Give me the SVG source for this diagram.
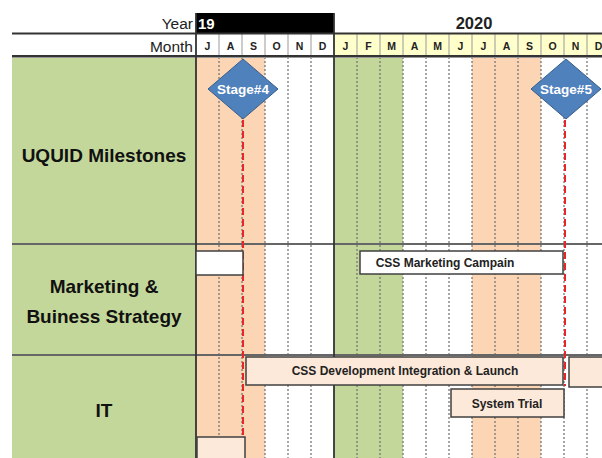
<svg xmlns="http://www.w3.org/2000/svg" width="602" height="458" viewBox="0 0 602 458">
<style>
.t{font-family:"Liberation Sans",Arial,sans-serif}
.b{font-weight:bold}
.mon{font-family:"Liberation Sans",Arial,sans-serif;font-weight:bold;font-size:10.5px;text-anchor:middle;fill:#222}
.lab{font-family:"Liberation Sans",Arial,sans-serif;font-weight:bold;font-size:19px;text-anchor:middle;fill:#111}
.bar{stroke:#404040;stroke-width:1.5}
.bt{font-family:"Liberation Sans",Arial,sans-serif;font-weight:bold;font-size:12px;text-anchor:middle;fill:#222}
.dot{stroke:#777;stroke-width:1.3;stroke-dasharray:2,2;fill:none}
.hc{stroke:#999;stroke-width:1;fill:none}
.red{stroke:#e8262a;stroke-width:2;stroke-dasharray:7,4;fill:none}
.dia{fill:#4f81bd;stroke:#385d8a;stroke-width:1}
.dt{font-family:"Liberation Sans",Arial,sans-serif;font-weight:bold;font-size:13.5px;text-anchor:middle;fill:#fff}
</style>
<rect width="602" height="458" fill="#fff"/>
<g id="background">
<rect x="12" y="57" width="184" height="401" fill="#c4d79b"/>
<rect x="196" y="57" width="69" height="401" fill="#fcd5b4"/>
<rect x="334" y="57" width="69" height="401" fill="#c4d79b"/>
<rect x="472" y="57" width="69" height="401" fill="#fcd5b4"/>
<rect x="334" y="34" width="268" height="22" fill="#ffffcc"/>
<rect x="196" y="13" width="138" height="20" fill="#000"/>
</g>
<g id="grid">
<path class="hc" d="M219 34V56M242 34V56M265 34V56M288 34V56M311 34V56M357 34V56M380 34V56M403 34V56M426 34V56M449 34V56M472 34V56M495 34V56M518 34V56M541 34V56M564 34V56M587 34V56"/>
<path class="dot" d="M219 57V458M242 57V458M265 57V458M288 57V458M311 57V458M357 57V458M380 57V458M403 57V458M426 57V458M449 57V458M472 57V458M495 57V458M518 57V458M541 57V458M564 57V458M587 57V458"/>
<path d="M12 33.5H602" stroke="#333" stroke-width="2"/>
<path d="M12 56H602" stroke="#333" stroke-width="2"/>
<path d="M12 57.5H602" stroke="#999" stroke-width="1"/>
<path d="M12 244H602" stroke="#666" stroke-width="1.8"/>
<path d="M12 355H602" stroke="#666" stroke-width="1.8"/>
<path d="M196 13V458" stroke="#333" stroke-width="1.8"/>
<path d="M334 13V458" stroke="#333" stroke-width="1.8"/>
</g>
<g id="header">
<text class="t" x="193" y="29" font-size="15.5" text-anchor="end" fill="#222">Year</text>
<text class="t" x="193" y="52" font-size="15.5" text-anchor="end" fill="#222">Month</text>
<text class="t b" x="198" y="29" font-size="15" fill="#fff">19</text>
<text class="t b" x="474" y="29" font-size="16.5" text-anchor="middle" fill="#222">2020</text>
<text class="mon" x="207.5" y="50">J</text>
<text class="mon" x="230.5" y="50">A</text>
<text class="mon" x="253.5" y="50">S</text>
<text class="mon" x="276.5" y="50">O</text>
<text class="mon" x="299.5" y="50">N</text>
<text class="mon" x="322.5" y="50">D</text>
<text class="mon" x="345.5" y="50">J</text>
<text class="mon" x="368.5" y="50">F</text>
<text class="mon" x="391.5" y="50">M</text>
<text class="mon" x="414.5" y="50">A</text>
<text class="mon" x="437.5" y="50">M</text>
<text class="mon" x="460.5" y="50">J</text>
<text class="mon" x="483.5" y="50">J</text>
<text class="mon" x="506.5" y="50">A</text>
<text class="mon" x="529.5" y="50">S</text>
<text class="mon" x="552.5" y="50">O</text>
<text class="mon" x="575.5" y="50">N</text>
<text class="mon" x="598.5" y="50">D</text>
</g>
<g id="row-labels">
<text class="lab" x="104" y="162">UQUID Milestones</text>
<text class="lab" x="104" y="293">Marketing &amp;</text>
<text class="lab" x="104" y="323">Buiness Strategy</text>
<text class="lab" x="104" y="417">IT</text>
</g>
<g id="connectors">
<path class="red" d="M243 120V458"/>
<path class="red" d="M565 120V386"/>
</g>
<g id="stage4">
<polygon class="dia" points="243,59 278,89 243,119 208,89"/>
<text class="dt" x="243" y="94">Stage#4</text>
</g>
<g id="stage5">
<polygon class="dia" points="566,59 601,89 566,119 531,89"/>
<text class="dt" x="566" y="94">Stage#5</text>
</g>
<g id="mkt-left"><rect class="bar" x="196" y="251" width="47" height="24" fill="#fff"/></g>
<g id="mkt-campaign">
<rect class="bar" x="360" y="251" width="203" height="23" fill="#fff"/>
<text class="bt" x="445" y="266.5">CSS Marketing Campain</text>
</g>
<g id="it-dev">
<rect class="bar" x="246" y="357" width="317" height="28" fill="#fde9d9"/>
<text class="bt" x="405" y="375">CSS Development Integration &amp; Launch</text>
</g>
<g id="it-right"><rect class="bar" x="569" y="357" width="45" height="30" fill="#fde9d9"/></g>
<g id="it-trial">
<rect class="bar" x="451" y="389" width="113" height="28" fill="#fde9d9"/>
<text class="bt" x="507" y="407.5">System Trial</text>
</g>
<g id="it-left"><rect class="bar" x="197" y="437" width="48" height="30" fill="#fde9d9"/></g>
</svg>
